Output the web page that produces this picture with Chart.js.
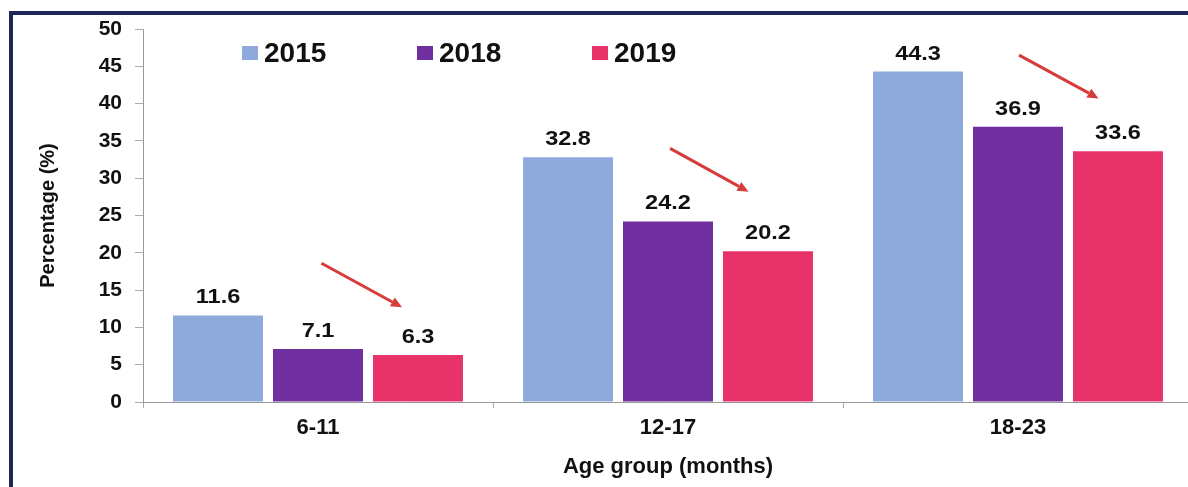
<!DOCTYPE html>
<html>
<head>
<meta charset="utf-8">
<script src="https://cdn.jsdelivr.net/npm/chart.js@4/dist/chart.umd.min.js"></script>
<style>
  html, body { margin: 0; padding: 0; background: #fff; overflow: hidden; width: 1188px; height: 487px; }
  #wrap { position: absolute; left: 0; top: 0; width: 1200px; height: 487px; }
  #frame { position: absolute; left: 9px; top: 11px; width: 1200px; height: 520px; border: 4px solid #1c2659; box-sizing: border-box; pointer-events: none; }
</style>
</head>
<body>
<div id="wrap"><canvas id="c" width="1200" height="487"></canvas></div>
<div id="frame"></div>
<script>
const categories = ['6-11', '12-17', '18-23'];
const seriesLabels = ['2015', '2018', '2019'];
const values2015 = [11.6, 32.8, 44.3];
const values2018 = [7.1, 24.2, 36.9];
const values2019 = [6.3, 20.2, 33.6];
const yMin = 0, yMax = 50, yStep = 5;
// trend arrows (category index, value) start -> end
const arrowFrom = [[0.01, 18.6], [1.006, 34.0], [2.003, 46.5]];
const arrowTo = [[0.24, 12.7], [1.23, 28.2], [2.23, 40.7]];

const colors = ['#8eaadc', '#6f2f9f', '#e8336a'];

const valueLabelPlugin = {
  id: 'valueLabels',
  afterDatasetsDraw(chart) {
    const ctx = chart.ctx;
    ctx.save();
    ctx.font = 'bold 21px "Liberation Sans", Arial, sans-serif';
    ctx.fillStyle = '#111';
    ctx.textAlign = 'center';
    ctx.textBaseline = 'alphabetic';
    chart.data.datasets.forEach((ds, i) => {
      chart.getDatasetMeta(i).data.forEach((bar, j) => {
        ctx.save();
        ctx.translate(bar.x, bar.y - 12);
        ctx.scale(1.12, 1);
        ctx.fillText(ds.data[j].toFixed(1), 0, 0);
        ctx.restore();
      });
    });
    ctx.restore();
  }
};

const arrowPlugin = {
  id: 'arrows',
  afterDatasetsDraw(chart) {
    const ctx = chart.ctx;
    const xs = chart.scales.x, ys = chart.scales.y;
    ctx.save();
    ctx.strokeStyle = '#d63c3a';
    ctx.fillStyle = '#d63c3a';
    ctx.lineWidth = 3;
    arrowFrom.forEach((f, i) => {
      const t = arrowTo[i];
      const x1 = xs.getPixelForValue(f[0]), y1 = ys.getPixelForValue(f[1]);
      const x2 = xs.getPixelForValue(t[0]), y2 = ys.getPixelForValue(t[1]);
      const ang = Math.atan2(y2 - y1, x2 - x1);
      const hl = 11, hw = 5;
      const bx = x2 - hl * Math.cos(ang), by = y2 - hl * Math.sin(ang);
      ctx.beginPath();
      ctx.moveTo(x1, y1);
      ctx.lineTo(bx, by);
      ctx.stroke();
      ctx.beginPath();
      ctx.moveTo(x2, y2);
      ctx.lineTo(bx + hw * Math.sin(ang), by - hw * Math.cos(ang));
      ctx.lineTo(bx - hw * Math.sin(ang), by + hw * Math.cos(ang));
      ctx.closePath();
      ctx.fill();
    });
    ctx.restore();
  }
};

const legendPlugin = {
  id: 'customLegend',
  afterDraw(chart) {
    const ctx = chart.ctx;
    const a = chart.chartArea;
    ctx.save();
    ctx.font = 'bold 28px "Liberation Sans", Arial, sans-serif';
    ctx.textBaseline = 'alphabetic';
    ctx.textAlign = 'left';
    chart.data.datasets.forEach((ds, i) => {
      const x = a.left + 99 + i * 175;
      ctx.fillStyle = ds.backgroundColor;
      ctx.fillRect(x, 46, 16, 14);
      ctx.fillStyle = '#111';
      ctx.fillText(ds.label, x + 22, 62);
    });
    ctx.restore();
  }
};

new Chart(document.getElementById('c'), {
  type: 'bar',
  data: {
    labels: categories,
    datasets: [
      { label: seriesLabels[0], data: values2015, backgroundColor: colors[0] },
      { label: seriesLabels[1], data: values2018, backgroundColor: colors[1] },
      { label: seriesLabels[2], data: values2019, backgroundColor: colors[2] }
    ]
  },
  options: {
    responsive: false,
    animation: false,
    devicePixelRatio: 1,
    layout: { padding: { top: 29, right: 7, bottom: 0, left: 0 } },
    datasets: { bar: { categoryPercentage: 0.857, barPercentage: 0.9 } },
    plugins: { legend: { display: false }, tooltip: { enabled: false } },
    scales: {
      x: {
        grid: { drawOnChartArea: false, drawTicks: true, tickLength: 6, color: '#aaa', offset: true },
        border: { display: true, color: '#999', width: 1 },
        ticks: { color: '#111', padding: 7, font: { family: '"Liberation Sans", Arial, sans-serif', size: 22, weight: 'bold' } },
        title: { display: true, text: 'Age group (months)', color: '#111', padding: { top: 0, bottom: 7 }, font: { family: '"Liberation Sans", Arial, sans-serif', size: 22, weight: 'bold' } },
        afterFit(s) { s.height = 85; }
      },
      y: {
        min: yMin, max: yMax,
        grid: { drawOnChartArea: false, drawTicks: true, tickLength: 8, color: '#aaa' },
        border: { display: true, color: '#999', width: 1 },
        ticks: { stepSize: yStep, color: '#111', padding: 13, font: { family: '"Liberation Sans", Arial, sans-serif', size: 21, weight: 'bold' } },
        title: { display: true, text: 'Percentage (%)', color: '#111', padding: { top: 36, bottom: 0 }, font: { family: '"Liberation Sans", Arial, sans-serif', size: 20, weight: 'bold' } },
        afterFit(s) { s.width = 143; }
      }
    }
  },
  plugins: [valueLabelPlugin, arrowPlugin, legendPlugin]
});
</script>
</body>
</html>
